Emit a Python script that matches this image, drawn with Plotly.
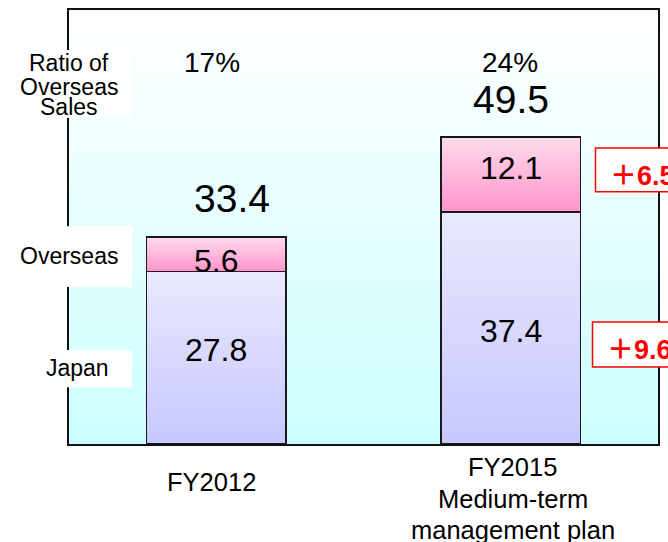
import plotly.graph_objects as go

# ---- data ----
categories = ["FY2012", "FY2015"]
japan = [27.8, 37.4]
overseas = [5.6, 12.1]
totals = [33.4, 49.5]
ratio_labels = ["17%", "24%"]
delta_labels = ["6.5", "9.6"]          # overseas, japan increase
xlabel_lines = [["FY2012"], ["FY2015", "Medium-term", "management plan"]]

FONT = "Liberation Sans, Arial, Noto Sans CJK JP, sans-serif"
BAR_W = 0.475


def lerp(c1, c2, t):
    return "rgb(%d,%d,%d)" % tuple(round(a + (b - a) * t) for a, b in zip(c1, c2))


fig = go.Figure()

# bars (outline; fill by gradient bands below)
fig.add_trace(go.Bar(x=categories, y=japan, name="Japan", width=BAR_W,
                     marker=dict(color="rgba(0,0,0,0)", line=dict(color="#1a1a1a", width=1.5)),
                     hoverinfo="skip"))
fig.add_trace(go.Bar(x=categories, y=overseas, name="Overseas", width=BAR_W,
                     marker=dict(color="rgba(0,0,0,0)", line=dict(color="#1a1a1a", width=1.5)),
                     hoverinfo="skip"))

shapes = []
# plot background gradient (white top -> light cyan bottom)
NB = 80
for k in range(NB):
    t = k / (NB - 1)
    shapes.append(dict(type="rect", xref="paper", yref="paper", layer="below",
                       x0=0, x1=1, y0=k / NB, y1=min(1, (k + 1) / NB + 0.006),
                       fillcolor=lerp((204, 255, 255), (255, 255, 255), t), line=dict(width=0)))

# gradient fills of bar segments
seg_colors = {
    "japan": ((200, 200, 255), (232, 232, 254)),
    "overseas": ((255, 150, 202), (255, 218, 236)),
}
for i in range(len(categories)):
    for base, h, key in ((0, japan[i], "japan"), (japan[i], overseas[i], "overseas")):
        lo, hi = seg_colors[key]
        n = max(6, int(h * 6.2 / 3))
        for k in range(n):
            t = k / (n - 1)
            shapes.append(dict(type="rect", xref="x", yref="y", layer="below",
                               x0=i - BAR_W / 2, x1=i + BAR_W / 2,
                               y0=base + h * k / n, y1=min(base + h, base + h * (k + 1) / n + 0.25),
                               fillcolor=lerp(lo, hi, t), line=dict(width=0)))

# white boxes behind left labels
for y0, y1 in ((0.751, 0.908), (0.362, 0.502), (0.131, 0.2166)):
    shapes.append(dict(type="rect", xref="paper", yref="paper", layer="above",
                       x0=-0.2, x1=0.1067, y0=y0, y1=y1,
                       fillcolor="white", line=dict(width=0)))

# red delta boxes
for x0, y0, y1 in ((0.8939, 0.581, 0.682), (0.8888, 0.1774, 0.2811)):
    shapes.append(dict(type="rect", xref="paper", yref="paper", layer="above",
                       x0=x0, x1=1.3, y0=y0, y1=y1,
                       fillcolor="white", line=dict(color="#ff0000", width=1.5)))


def A(**kw):
    d = dict(showarrow=False, xanchor="center", yanchor="middle")
    d.update(kw)
    return d


ann = []
# segment value labels
inner_shift_j = [8, -3]
inner_shift_o = [-7, 7]
for i in range(len(categories)):
    ann.append(A(x=i, y=japan[i] / 2, text=f"{japan[i]:.1f}",
                 yshift=inner_shift_j[i], font=dict(size=32, color="black", family=FONT)))
    ann.append(A(x=i, y=japan[i] + overseas[i] / 2, text=f"{overseas[i]:.1f}",
                 yshift=inner_shift_o[i], font=dict(size=32, color="black", family=FONT)))
# totals
tot_xshift = [16, 0]
for i in range(len(categories)):
    ann.append(A(x=i, y=totals[i], text=f"{totals[i]:.1f}",
                 yshift=38, xshift=tot_xshift[i], font=dict(size=39, color="black", family=FONT)))
# ratios
ratio_xshift = [-4, -1]
for i in range(len(categories)):
    ann.append(A(x=i, y=0.879, yref="paper", text=ratio_labels[i],
                 xshift=ratio_xshift[i], font=dict(size=28, color="black", family=FONT)))
# left labels
for txt, y in (("Ratio of", 0.878), ("Overseas", 0.8237), ("Sales", 0.7776)):
    ann.append(A(x=0, y=y, xref="paper", yref="paper", text=txt,
                 font=dict(size=23, color="black", family=FONT)))
ann.append(A(x=0, y=(444 - 256) / 434, xref="paper", yref="paper", text="Overseas",
             font=dict(size=23, color="black", family=FONT)))
ann.append(A(x=0.015, y=(444 - 367.5) / 434, xref="paper", yref="paper", text="Japan",
             font=dict(size=23, color="black", family=FONT)))
# x category labels
xl_pos = [[482], [466.5, 499, 530]]
xl_shift = [-5, 2]
for i in range(len(categories)):
    for line, py in zip(xlabel_lines[i], xl_pos[i]):
        ann.append(A(x=i, y=(444 - py) / 434, yref="paper", text=line,
                     xshift=xl_shift[i], font=dict(size=25.5, color="black", family=FONT)))
# deltas
for txt, x, y in ((delta_labels[0], 0.9159, 0.6233), (delta_labels[1], 0.9108, 0.2224)):
    ann.append(A(x=x, y=y, xref="paper", yref="paper", xanchor="left",
                 text=f"<b><span style='font-family:Noto Sans CJK JP'>＋</span>{txt}</b>",
                 font=dict(size=27, color="#ff0000", family=FONT)))

fig.update_layout(
    barmode="stack",
    width=668, height=542,
    margin=dict(l=69, r=8, t=10, b=98),
    paper_bgcolor="white",
    plot_bgcolor="rgba(0,0,0,0)",
    showlegend=False,
    shapes=shapes,
    annotations=ann,
    xaxis=dict(range=[-0.5, 1.5], showticklabels=False, ticks="", showgrid=False,
               showline=True, mirror=True, linecolor="#111", linewidth=2, zeroline=False),
    yaxis=dict(range=[0, 70], showticklabels=False, ticks="", showgrid=False,
               showline=True, mirror=True, linecolor="#111", linewidth=2, zeroline=False),
)

fig.write_html("out.html",
               config={"displayModeBar": False},
               post_script="document.body.style.margin='0';"
                           "document.documentElement.style.overflow='hidden';")
